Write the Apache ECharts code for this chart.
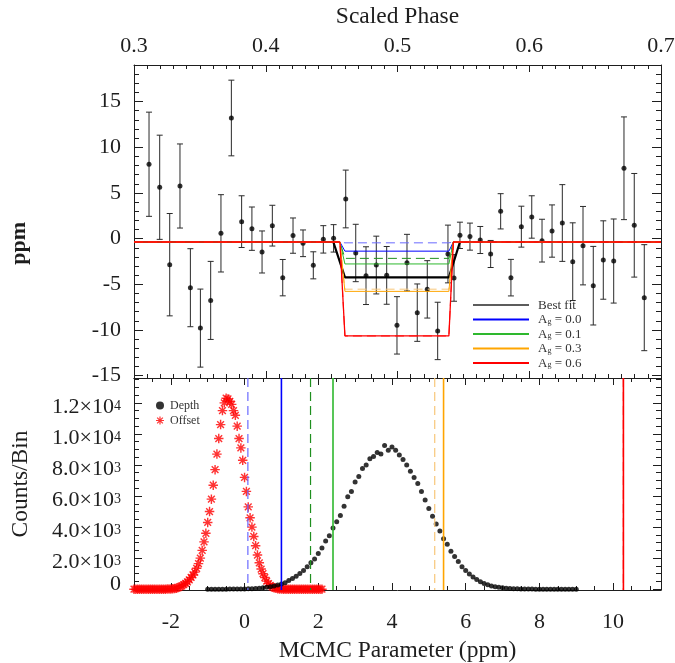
<!DOCTYPE html>
<html>
<head>
<meta charset="utf-8">
<script src="https://cdn.jsdelivr.net/npm/echarts@6.0.0/dist/echarts.min.js"></script>
<style>
  html, body { margin: 0; padding: 0; background: #ffffff; }
  #chart { width: 675px; height: 663px; }
</style>
</head>
<body>
<div id="chart"></div>
<script>
// ---- Binned light curve around the secondary eclipse ----
const phase = [
  0.3114, 0.3195, 0.3271, 0.3349, 0.3428, 0.3504, 0.3582, 0.3660, 0.3739, 0.3817,
  0.3895, 0.3972, 0.4050, 0.4129, 0.4207, 0.4283, 0.4361, 0.4437, 0.4515, 0.4607,
  0.4683, 0.4761, 0.4839, 0.4918, 0.4996, 0.5072, 0.5150, 0.5226, 0.5305, 0.5383,
  0.5429, 0.5474, 0.5550, 0.5628, 0.5707, 0.5783, 0.5861, 0.5940, 0.6019, 0.6097,
  0.6173, 0.6251, 0.6330, 0.6408, 0.6486, 0.6562, 0.6641, 0.6719, 0.6797, 0.6873
];
const flux = [
  8.14, 5.62, -2.85, 5.76, -5.37, -9.79, -6.76, 0.58, 13.20, 1.86,
  1.09, -1.46, 1.42, -4.27, 0.33, -0.51, -2.92, -0.08, 0.03, 4.34,
  -1.57, -4.05, -2.89, -4.02, -9.49, -2.63, -8.10, -5.55, -10.10, -1.68,
  -4.30, 0.36, 0.22, -0.15, -1.68, 2.99, -4.27, 1.31, 2.37, -0.22,
  0.83, 1.71, -2.52, -0.77, -5.15, -2.34, -2.45, 7.70, 1.46, -6.46
];
const fluxErr = [
  5.70, 5.70, 5.60, 4.60, 4.27, 4.27, 4.27, 4.23, 4.14, 2.83,
  2.37, 2.30, 2.23, 1.99, 1.93, 1.46, 1.48, 1.50, 1.50, 3.16,
  3.14, 3.16, 3.16, 3.16, 3.14, 3.10, 3.14, 3.14, 3.14, 3.16,
  2.55, 1.44, 1.48, 1.48, 1.48, 1.93, 2.00, 2.24, 2.32, 2.34,
  2.86, 4.20, 4.25, 4.29, 4.30, 4.29, 4.60, 5.62, 5.67, 5.80
];

// ---- Eclipse models (depths in ppm, contact points in phase) ----
const fitOffset = -0.37;
const bestFitDepth = 3.87;
const bestFitContacts = [0.4513, 0.4601, 0.5390, 0.5474];
const albedoNames = ['A_g = 0.0', 'A_g = 0.1', 'A_g = 0.3', 'A_g = 0.6'];
const albedoDepths = [1.00, 2.40, 5.40, 10.28];
const albedoDepthsAlt = [0.09, 1.79, 5.16, 10.28];
const albedoContacts = [0.4563, 0.4601, 0.5390, 0.5424];
const albedoColors = ['#0000ff', '#2eb82e', '#ffa500', '#ff0000'];
const albedoColorsAlt = ['#6a6aff', '#1f8f1f', '#f8c77a', '#ff2020'];

// ---- MCMC posterior histograms ----
const depthBinStart = -1.0;
const depthBinWidth = 0.1;
const depthCounts = [
  0, 0, 5, 0, 5, 5, 10, 10, 15, 15,
  20, 30, 35, 50, 70, 90, 120, 160, 210, 270,
  330, 420, 560, 690, 830, 1010, 1200, 1440, 1700, 1950,
  2300, 2650, 3100, 3450, 3950, 4350, 4750, 5350, 5950, 6300,
  6900, 7250, 7780, 8000, 8400, 8550, 8800, 8700, 9250, 8950,
  9150, 8950, 8650, 8350, 8000, 7600, 7200, 6800, 6300, 5750,
  5200, 4700, 4200, 3750, 3250, 2900, 2450, 2100, 1780, 1450,
  1200, 980, 790, 620, 480, 370, 280, 210, 160, 120,
  90, 65, 45, 35, 25, 20, 15, 10, 8, 5,
  4, 3, 2, 2, 1, 1, 0, 0, 0, 0,
  0
];
const offsetBinStart = -3.0;
const offsetBinWidth = 0.05;
const offsetCounts = [
  0, 0, 0, 0, 0, 0, 0, 0, 0, 0,
  0, 0, 0, 0, 0, 0, 5, 5, 10, 10,
  15, 25, 40, 70, 110, 160, 220, 290, 380, 480,
  600, 760, 920, 1100, 1350, 1650, 2000, 2500, 3050, 3600,
  4300, 5000, 5800, 6700, 7700, 8700, 9700, 10600, 11500, 12000,
  12300, 12250, 12100, 11900, 11500, 11200, 10500, 9700, 9100, 8300,
  7200, 6300, 5300, 4600, 4000, 3400, 2800, 2200, 1700, 1300,
  1000, 750, 520, 360, 240, 150, 90, 60, 35, 20,
  10, 0, 0, 0, 0, 0, 0, 0, 0, 0,
  0, 0, 0, 0, 0, 0, 0, 0, 0, 0,
  0, 0, 0
];

// ---- Axis ranges and tick values ----
const phaseMin = 0.3, phaseMax = 0.7;
const ppmMin = -15.25, ppmMax = 19;
const mcmcMin = -3, mcmcMax = 11.3;
const countMin = -50, countMax = 13600;
const phaseMajor = [0.3, 0.4, 0.5, 0.6, 0.7];
const ppmMajor = [-15, -10, -5, 0, 5, 10, 15];
const mcmcMajor = [-2, 0, 2, 4, 6, 8, 10];
const countMajor = [0, 2000, 4000, 6000, 8000, 10000, 12000];

function steps(a, b, step) {
  const out = [];
  const n = Math.round((b - a) / step);
  for (let i = 0; i <= n; i++) out.push(+(a + i * step).toFixed(6));
  return out;
}
const phaseMinor = steps(0.3, 0.7, 0.01);
const ppmMinor = steps(-15, 18, 1);
const mcmcMinor = steps(-3, 11, 0.5);
const countMinor = steps(0, 13500, 500);

const ink = '#1e1e1e';
const serif = 'Liberation Serif';

function axis(o) {
  return {
    type: 'value',
    gridIndex: o.grid,
    position: o.pos,
    min: o.min,
    max: o.max,
    axisLine: { show: !!o.line, onZero: false, lineStyle: { color: ink, width: 1 } },
    axisTick: { show: true, inside: true, length: o.len, customValues: o.ticks,
                lineStyle: { color: ink, width: 1 } },
    axisLabel: o.label ? Object.assign({ show: true, customValues: o.ticks, interval: 0,
                showMinLabel: true, showMaxLabel: true, hideOverlap: false,
                color: ink, fontFamily: serif, fontSize: 22 }, o.label) : { show: false },
    splitLine: { show: false },
    minorTick: { show: false },
    name: o.name || '',
    nameLocation: 'middle',
    nameGap: o.nameGap || 0,
    nameRotate: o.nameRotate,
    nameTextStyle: Object.assign({ color: ink, fontFamily: serif, fontSize: 23.5 }, o.nameStyle || {}),
    silent: true
  };
}

// Count labels written as m.m×10^e with a raised exponent
const sciRich = {
  b: { fontFamily: serif, fontSize: 22, color: ink, lineHeight: 18, padding: [8, 0, 0, 0] },
  s: { fontFamily: serif, fontSize: 14, color: ink, lineHeight: 12, verticalAlign: 'top', padding: [5, 0, 0, 0] },
  z: { fontFamily: serif, fontSize: 22, color: ink, lineHeight: 18, padding: [0, 0, 10, 0] }
};
function sciLabel(v) {
  if (v === 0) return '{z|0}';
  const e = Math.floor(Math.log10(v));
  const m = v / Math.pow(10, e);
  return '{b|' + m.toFixed(1) + '\u00d710}{s|' + e + '}';
}

const xAxes = [
  // top panel: phase axis on top (labelled) plus mirrored ticks below
  axis({ grid: 0, pos: 'top', min: phaseMin, max: phaseMax, line: true, len: 7, ticks: phaseMajor,
         label: { margin: 8, formatter: v => v.toFixed(1) },
         name: 'Scaled Phase', nameGap: 36 }),
  axis({ grid: 0, pos: 'top', min: phaseMin, max: phaseMax, len: 4, ticks: phaseMinor }),
  axis({ grid: 0, pos: 'bottom', min: phaseMin, max: phaseMax, line: true, len: 7, ticks: phaseMajor }),
  axis({ grid: 0, pos: 'bottom', min: phaseMin, max: phaseMax, len: 4, ticks: phaseMinor }),
  // bottom panel: MCMC parameter axis
  axis({ grid: 1, pos: 'bottom', min: mcmcMin, max: mcmcMax, line: true, len: 7, ticks: mcmcMajor,
         label: { margin: 21, formatter: v => String(v) },
         name: 'MCMC Parameter (ppm)', nameGap: 49 }),
  axis({ grid: 1, pos: 'bottom', min: mcmcMin, max: mcmcMax, len: 4, ticks: mcmcMinor }),
  axis({ grid: 1, pos: 'top', min: mcmcMin, max: mcmcMax, line: true, len: 7, ticks: mcmcMajor }),
  axis({ grid: 1, pos: 'top', min: mcmcMin, max: mcmcMax, len: 4, ticks: mcmcMinor })
];
const yAxes = [
  axis({ grid: 0, pos: 'left', min: ppmMin, max: ppmMax, line: true, len: 9, ticks: ppmMajor,
         label: { margin: 13, formatter: v => String(v) } }),
  axis({ grid: 0, pos: 'left', min: ppmMin, max: ppmMax, len: 5, ticks: ppmMinor }),
  axis({ grid: 0, pos: 'right', min: ppmMin, max: ppmMax, line: true, len: 9, ticks: ppmMajor }),
  axis({ grid: 0, pos: 'right', min: ppmMin, max: ppmMax, len: 5, ticks: ppmMinor }),
  axis({ grid: 1, pos: 'left', min: countMin, max: countMax, line: true, len: 8, ticks: countMajor,
         label: { margin: 13, formatter: sciLabel, rich: sciRich },
         name: 'Counts/Bin', nameGap: 101, nameRotate: 90 }),
  axis({ grid: 1, pos: 'left', min: countMin, max: countMax, len: 5, ticks: countMinor }),
  axis({ grid: 1, pos: 'right', min: countMin, max: countMax, line: true, len: 8, ticks: countMajor }),
  axis({ grid: 1, pos: 'right', min: countMin, max: countMax, len: 5, ticks: countMinor })
];

// Trapezoidal eclipse profile on the phase axis
function eclipseProfile(contacts, depth) {
  const floor = fitOffset - depth;
  return [
    [phaseMin, fitOffset], [contacts[0], fitOffset], [contacts[1], floor],
    [contacts[2], floor], [contacts[3], fitOffset], [phaseMax, fitOffset]
  ];
}
function modelLine(name, data, color, width, dashed, z) {
  return {
    type: 'line', name: name, xAxisIndex: 0, yAxisIndex: 0, data: data,
    symbol: 'none', z: z, silent: true,
    lineStyle: { color: color, width: width, type: dashed ? [9, 5] : 'solid' },
    itemStyle: { color: color }
  };
}
// Vertical markers at each model depth, spanning the histogram panel
function depthMarkers(depths, colors, dashed, width, z) {
  return {
    type: 'custom', xAxisIndex: 4, yAxisIndex: 4, z: z, silent: true,
    data: depths.map(d => [d, 0]),
    encode: { x: 0, y: 1 },
    renderItem: function (params, api) {
      const x = api.value(0);
      const top = api.coord([x, countMax]);
      const bot = api.coord([x, countMin]);
      return {
        type: 'line',
        shape: { x1: top[0], y1: top[1], x2: bot[0], y2: bot[1] },
        style: { stroke: colors[params.dataIndex], lineWidth: width, lineDash: dashed ? [9, 5] : null }
      };
    }
  };
}

const asterisk = 'path://M0 8.5L20 8.5L20 11.5L0 11.5Z' +
  'M8.5 0L11.5 0L11.5 20L8.5 20Z' +
  'M3.96 1.84L18.16 16.04L16.04 18.16L1.84 3.96Z' +
  'M18.16 3.96L3.96 18.16L1.84 16.04L16.04 1.84Z';

const series = [];

// error bars
series.push({
  type: 'custom', xAxisIndex: 0, yAxisIndex: 0, z: 2, silent: true,
  data: phase.map((p, i) => [p, flux[i], fluxErr[i]]),
  encode: { x: 0, y: 1 },
  renderItem: function (params, api) {
    const x = api.value(0), y = api.value(1), e = api.value(2);
    const top = api.coord([x, y + e]);
    const bot = api.coord([x, y - e]);
    const hw = 3;
    const st = { stroke: '#2a2a2a', lineWidth: 1 };
    return {
      type: 'group',
      children: [
        { type: 'line', shape: { x1: top[0], y1: top[1], x2: bot[0], y2: bot[1] }, style: st },
        { type: 'line', shape: { x1: top[0] - hw, y1: top[1], x2: top[0] + hw, y2: top[1] }, style: st },
        { type: 'line', shape: { x1: bot[0] - hw, y1: bot[1], x2: bot[0] + hw, y2: bot[1] }, style: st }
      ]
    };
  }
});
series.push({
  type: 'scatter', xAxisIndex: 0, yAxisIndex: 0, z: 3, silent: true,
  symbol: 'circle', symbolSize: 5, itemStyle: { color: '#000' },
  data: phase.map((p, i) => [p, flux[i]])
});

// eclipse models
series.push(modelLine('Best fit', eclipseProfile(bestFitContacts, bestFitDepth), '#000000', 2.2, false, 4));
for (let i = 0; i < albedoNames.length; i++) {
  series.push(modelLine(null, eclipseProfile(albedoContacts, albedoDepthsAlt[i]), albedoColorsAlt[i], 1, true, 5 + i));
  series.push(modelLine(albedoNames[i], eclipseProfile(albedoContacts, albedoDepths[i]), albedoColors[i], i === 3 ? 1.3 : 1, false, 5 + i));
}

// posterior histograms
series.push({
  type: 'scatter', name: 'Offset', xAxisIndex: 4, yAxisIndex: 4, z: 3, silent: true,
  symbol: asterisk, symbolSize: 9.5, itemStyle: { color: '#ff0000' },
  data: offsetCounts.map((c, i) => [offsetBinStart + i * offsetBinWidth, c])
});
series.push({
  type: 'scatter', name: 'Depth', xAxisIndex: 4, yAxisIndex: 4, z: 4, silent: true,
  symbol: 'circle', symbolSize: 5, itemStyle: { color: '#000000' },
  data: depthCounts.map((c, i) => [depthBinStart + i * depthBinWidth, c])
});
series.push(depthMarkers(albedoDepthsAlt, albedoColorsAlt, true, 1.2, 5));
series.push(depthMarkers(albedoDepths, albedoColors, false, 1.6, 6));

const lineIcon = 'path://M0 0H56V2H0Z';

const option = {
  animation: false,
  backgroundColor: '#ffffff',
  grid: [
    { left: 134, top: 65, width: 527, height: 313, outerBoundsMode: 'none' },
    { left: 134, top: 378, width: 527, height: 212, outerBoundsMode: 'none' }
  ],
  xAxis: xAxes,
  yAxis: yAxes,
  graphic: [{
    type: 'text', left: 8, top: 222, rotation: Math.PI / 2, silent: true,
    style: { text: 'ppm', fill: ink, font: 'bold 22px "Liberation Serif"' }
  }],
  legend: [
    {
      data: [{ name: 'Best fit', itemStyle: { color: '#5c5c5c' } }].concat(albedoNames),
      icon: lineIcon, symbolKeepAspect: true,
      orient: 'vertical', left: 468, top: 294, itemWidth: 56, itemHeight: 12, itemGap: 1.5,
      selectedMode: false,
      formatter: function (name) {
        if (name.indexOf('A_g') === 0) return '{t|A}{g|g}{t|' + name.slice(3) + '}';
        return '{t|' + name + '}';
      },
      textStyle: {
        color: '#333', fontFamily: serif, fontSize: 13, padding: [0, 0, 0, 4],
        rich: {
          t: { fontFamily: serif, fontSize: 13, color: '#333', lineHeight: 12, verticalAlign: 'top' },
          g: { fontFamily: serif, fontSize: 8, color: '#333', lineHeight: 8, verticalAlign: 'bottom' }
        }
      }
    },
    {
      data: ['Depth', 'Offset'],
      orient: 'vertical', left: 151, top: 394, itemWidth: 10, itemHeight: 8, itemGap: 2,
      selectedMode: false,
      textStyle: { color: '#333', fontFamily: serif, fontSize: 12, lineHeight: 13 }
    }
  ],
  series: series
};

const chart = echarts.init(document.getElementById('chart'), null, { renderer: 'canvas' });
chart.setOption(option);
</script>
</body>
</html>
